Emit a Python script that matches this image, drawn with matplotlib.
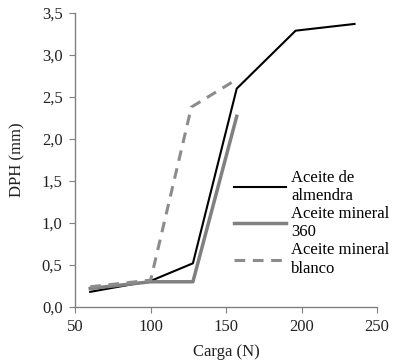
import matplotlib
matplotlib.use('Agg')
import matplotlib.pyplot as plt
from matplotlib.ticker import FuncFormatter

plt.rcParams['font.family'] = ['Liberation Serif', 'DejaVu Serif']

# Datos
carga_almendra = [60, 100, 128, 157, 196, 235]
dph_almendra = [0.18, 0.31, 0.52, 2.60, 3.29, 3.37]

carga_360 = [60, 100, 128, 157]
dph_360 = [0.22, 0.30, 0.30, 2.27]

carga_blanco = [60, 100, 127, 157]
dph_blanco = [0.24, 0.32, 2.38, 2.71]

etiquetas = ['Aceite de\nalmendra', 'Aceite mineral\n360', 'Aceite mineral\nblanco']

fig = plt.figure(figsize=(4.06, 3.62), dpi=100)
ax = fig.add_axes([0.185, 0.152, 0.744, 0.812])

ax.plot(carga_almendra, dph_almendra, color='black', lw=1.5, label=etiquetas[0])
ax.plot(carga_360, dph_360, color='#808080', lw=2.5, label=etiquetas[1])
ax.plot(carga_blanco, dph_blanco, color='#8c8c8c', lw=2.2, ls=(0, (3.5, 2.5)),
        label=etiquetas[2])

ax.set_xlim(50, 250)
ax.set_ylim(0, 3.5)
ax.set_xticks([50, 100, 150, 200, 250])
ax.set_yticks([0, 0.5, 1.0, 1.5, 2.0, 2.5, 3.0, 3.5])
ax.yaxis.set_major_formatter(FuncFormatter(lambda v, p: f'{v:.1f}'.replace('.', ',')))

for s in ['top', 'right']:
    ax.spines[s].set_visible(False)
for s in ['left', 'bottom']:
    ax.spines[s].set_color('#808080')
    ax.spines[s].set_linewidth(1.0)
ax.tick_params(direction='out', length=4, color='#808080', labelsize=12,
               labelcolor='#222222', pad=5)

ax.set_xlabel('Carga (N)', fontsize=12, color='#222222', labelpad=6)
ax.set_ylabel('DPH (mm)', fontsize=12, color='#222222', labelpad=12)

leg = ax.legend(loc='upper left', bbox_to_anchor=(0.505, 0.49), frameon=False,
                fontsize=12, handlelength=3.1, handletextpad=0.3,
                labelspacing=0.12, borderaxespad=0)
plt.setp(leg.get_texts(), linespacing=1.2)

fig.savefig('out.png', dpi=100)
